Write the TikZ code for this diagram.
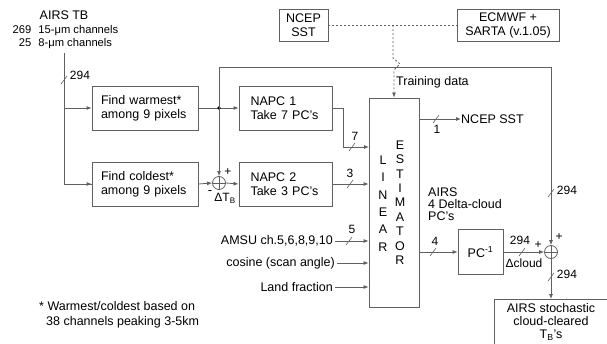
\documentclass[tikz,border=0pt]{standalone}
\usepackage{fontspec}
\setmainfont{Liberation Sans}
\usetikzlibrary{arrows.meta}
\definecolor{lc}{RGB}{96,96,96}
\newcommand\fnorm{\fontsize{12.5}{14}\selectfont}
\newcommand\fsmallx{\fontsize{11.2}{13}\selectfont}
\begin{document}
\begin{tikzpicture}[x=1pt,y=-1pt,
  txt/.style={font=\fnorm, inner sep=0pt},
  line/.style={draw=lc, line width=0.8pt},
  arr/.style={line, -{Latex[length=5pt,width=4pt]}},
  dsh/.style={draw=lc, line width=0.8pt, dash pattern=on 2pt off 2pt},
  box/.style={draw=lc, line width=0.8pt, inner sep=0pt, font=\fnorm},
  sumj/.style={circle, draw=lc, line width=0.8pt, minimum size=13pt, inner sep=0pt,
    path picture={\draw[lc, line width=0.6pt] (path picture bounding box.north) -- (path picture bounding box.south)
      (path picture bounding box.west) -- (path picture bounding box.east);}},
  tick/.style={draw=lc, line width=0.6pt},
  lbl/.style={font=\fontsize{12}{13}\selectfont, inner sep=0pt}
]
\useasboundingbox (0,0) rectangle (607,343);
\clip (0,0) rectangle (607,343);

% ---- source texts
\node[txt] (airs) at (64,15) {AIRS TB};
\node[inner sep=0pt, anchor=west, font=\fsmallx] (chan) at (12.5,37.5)
  {\renewcommand\arraystretch{1}\begin{tabular}{@{}r@{\hspace{7pt}}l@{}}269 & 15-μm channels\\25 & 8-μm channels\end{tabular}};

% ---- boxes
\node[box, minimum width=106pt, minimum height=44pt, text width=88pt, align=left] (warm) at (145,108) {Find warmest*\\among 9 pixels};
\node[box, minimum width=106pt, minimum height=44pt, text width=88pt, align=left] (cold) at (145,184) {Find coldest*\\among 9 pixels};
\node[box, minimum width=93pt, minimum height=44pt, text width=70pt, align=left] (napc1) at (285.5,108) {NAPC 1\\Take 7 PC's};
\node[box, minimum width=93pt, minimum height=44pt, text width=70pt, align=left] (napc2) at (285.5,184) {NAPC 2\\Take 3 PC's};
\node[box, minimum width=50pt, minimum height=209pt] (est) at (394,202.5) {};
\node[inner sep=0pt, font=\fontsize{12.5}{17.3}\selectfont, align=center] (lin) at (383,203.5) {L\\I\\N\\E\\A\\R};
\node[inner sep=0pt, font=\fontsize{12.5}{14.4}\selectfont, align=center] (estim) at (400,202.5) {E\\S\\T\\I\\M\\A\\T\\O\\R};
\node[box, minimum width=49pt, minimum height=32pt, align=center] (ncep) at (303.5,25) {NCEP\\SST};
\node[box, minimum width=102pt, minimum height=32pt, align=center] (ecm) at (508,25) {ECMWF +\\SARTA (v.1.05)};
\node[box, minimum width=45pt, minimum height=45pt] (pci) at (480.5,252) {PC\textsuperscript{-1}};
\node[box, anchor=north west, minimum width=125pt, minimum height=70pt] (fin) at (494,299) {};
\node[txt, align=center, font=\fontsize{12.5}{13}\selectfont] (fintxt) at (551,322) {AIRS stochastic\\cloud-cleared\\T\textsubscript{B}'s};

% ---- summing junctions
\node[sumj] (sl) at (219,183) {};
\node[sumj] (sr) at (551,252) {};

% ---- other texts
\node[txt, anchor=west] (train) at (396,82) {Training data};
\node[txt, anchor=west] (nsst) at (461,119) {NCEP SST};
\node[txt, anchor=west, align=left, font=\fontsize{12.5}{12}\selectfont] (airsout) at (428,204) {AIRS\\4 Delta-cloud\\PC's};
\node[txt, anchor=east, inner xsep=2pt] (amsu) at (335,241) {AMSU ch.5,6,8,9,10};
\node[txt, anchor=east, inner xsep=2pt] (cosn) at (337,263) {cosine (scan angle)};
\node[txt, anchor=east, inner xsep=2pt] (land) at (335,287) {Land fraction};
\node[txt, anchor=west, align=left, font=\fontsize{12.5}{15}\selectfont] (foot) at (39,314.5) {* Warmest/coldest based on\\\hspace*{7pt}38 channels peaking 3-5km};

% ---- helper coordinates
\coordinate (src) at (64,53);
\coordinate (dot) at (219,108);
\coordinate (tr) at (551,67);
\coordinate (n1a) at (343,108);
\coordinate (n1b) at (369,147);
\coordinate (tj) at (393,25);
\coordinate (k1) at (393,58);
\coordinate (k2) at (400,64);
\coordinate (k3) at (394,70);

% ---- connectors
\draw[line] (src) |- (cold.west);
\draw[arr] (src |- cold.west) -- (cold.west);
\draw[arr] (src |- warm.west) -- (warm.west);
\draw[arr] (warm.east) -- (napc1.west);
\fill[black] (dot) circle (1.8pt);
\draw[arr] (dot) -- (sl.north);
\draw[arr] (dot) |- (tr) -- (sr.north);
\draw[arr] (cold.east) -- (sl.west);
\draw[arr] (sl.east) -- (napc2.west);
\draw[arr] (napc1.east) -- (n1a) |- (n1b);
\draw[arr] (napc2.east) -- (napc2.east -| est.west);
\draw[arr] (amsu.east) -- (amsu.east -| est.west);
\draw[arr] (cosn.east) -- (cosn.east -| est.west);
\draw[arr] (land.east) -- (land.east -| est.west);
\draw[arr] (est.east |- nsst.west) -- (nsst.west);
\draw[arr] (est.east |- pci.west) -- (pci.west);
\draw[arr] (pci.east) -- (sr.west);
\draw[arr] (sr.south) -- (sr.south |- fin.north);
\draw[dsh] (ncep.east) -- (ecm.west);
\draw[dsh, -{Latex[length=5pt,width=4pt]}] (tj) -- (k1) -- (k2) -- (k3) -- (est.north);

% ---- bus ticks and labels
\foreach \p in {(64,80),(352,147),(350,184),(349,241),(436,119),(433,252),(522,252),(551,193),(551,277)}
  \draw[tick] \p ++(-3,4) -- ++(6,-8);
\node[lbl] (l294a) at (80,75) {294};
\node[lbl] (l7) at (355,136) {7};
\node[lbl] (l3) at (350,173) {3};
\node[lbl] (l5) at (352,229) {5};
\node[lbl] (l1) at (437,129) {1};
\node[lbl] (l4) at (435,241) {4};
\node[lbl] (l294b) at (520,240) {294};
\node[lbl] (ldc) at (524,263) {Δcloud};
\node[lbl] (l294c) at (567,190) {294};
\node[lbl] (l294d) at (567,274) {294};
\node[lbl] (pl1) at (228,172) {+};
\node[lbl, font=\fontsize{13}{13}\selectfont] (mi1) at (210,193) {-};
\node[lbl] (dtb) at (225,198) {ΔT\textsubscript{B}};
\node[lbl] (pl2) at (538,245) {+};
\node[lbl] (pl3) at (559,237) {+};
\end{tikzpicture}
\end{document}
